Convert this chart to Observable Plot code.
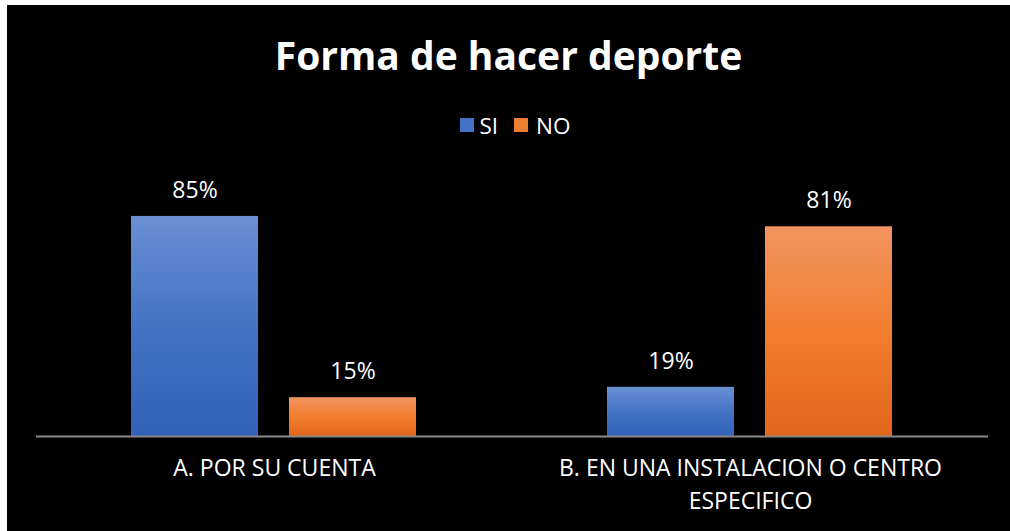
<!DOCTYPE html>
<html>
<head>
<meta charset="utf-8">
<script src="https://cdn.jsdelivr.net/npm/d3@7"></script>
<script src="https://cdn.jsdelivr.net/npm/@observablehq/plot@0.6"></script>
<style>
  html, body { margin: 0; padding: 0; background: #ffffff; }
  #wrap { position: absolute; left: 7px; top: 5px; width: 1003px; height: 526px; background: #000; overflow: hidden;
          font-family: "Open Sans", Lato, sans-serif; color: #fff; }
  #title { height: 95px; line-height: 100px; text-align: center; font-size: 39px; font-weight: bold; }
  #legend { height: 45px; line-height: 45px; text-align: center; font-size: 22.5px; display: flex; justify-content: center; align-items: center; padding-top: 5px; padding-left: 14px; box-sizing: border-box; }
  .sw { display: inline-block; width: 14px; height: 14px; margin-right: 5px; }
  .item { display: inline-flex; align-items: center; margin: 0 8px; }
  svg { display: block; }
</style>
</head>
<body>
<div id="wrap">
  <div id="title">Forma de hacer deporte</div>
  <div id="legend"></div>
  <div id="chart"></div>
</div>
<script>
const categories = ["A. POR SU CUENTA", "B. EN UNA INSTALACION O CENTRO ESPECIFICO"];
const categoryLabels = ["A. POR SU CUENTA", "B. EN UNA INSTALACION O CENTRO\nESPECIFICO"];
const series = ["SI", "NO"];
const valuesSI = [0.85, 0.19];
const valuesNO = [0.15, 0.81];
const seriesColors = ["#4472c4", "#ed7d31"];

const data = [];
categories.forEach((c, i) => {
  data.push({category: c, series: "SI", value: valuesSI[i]});
  data.push({category: c, series: "NO", value: valuesNO[i]});
});

// legend
const legend = document.getElementById("legend");
series.forEach((s, i) => {
  const it = document.createElement("span");
  it.className = "item";
  const sw = document.createElement("span");
  sw.className = "sw";
  sw.style.background = seriesColors[i];
  if (i === 1) sw.style.marginRight = "8px";
  it.appendChild(sw);
  it.appendChild(document.createTextNode(s));
  legend.appendChild(it);
});

const defs = () => {
  const ns = "http://www.w3.org/2000/svg";
  const d = document.createElementNS(ns, "defs");
  const grads = [
    ["gSI", ["#6a8fd3", "#4473c4", "#3162b8"]],
    ["gNO", ["#f19460", "#f27e2f", "#e0661b"]]
  ];
  for (const [id, stops] of grads) {
    const g = document.createElementNS(ns, "linearGradient");
    g.setAttribute("id", id);
    g.setAttribute("x1", "0"); g.setAttribute("y1", "0");
    g.setAttribute("x2", "0"); g.setAttribute("y2", "1");
    stops.forEach((c, k) => {
      const s = document.createElementNS(ns, "stop");
      s.setAttribute("offset", `${k * 50}%`);
      s.setAttribute("stop-color", c);
      g.appendChild(s);
    });
    d.appendChild(g);
  }
  return d;
};

const labelMap = new Map(categories.map((c, i) => [c, categoryLabels[i]]));

const chart = Plot.plot({
  width: 1003,
  height: 386,
  marginTop: 58,
  marginBottom: 95,
  marginLeft: 28,
  marginRight: 22,
  style: {background: "#000", color: "#fff", fontFamily: "'Open Sans', Lato, sans-serif", fontSize: "23px"},
  fx: {domain: categories, padding: 0, axis: null},
  x: {domain: series, paddingInner: 0.196, paddingOuter: 0.603, axis: null},
  y: {domain: [0, 0.9], axis: null},
  marks: [
    defs,
    Plot.barY(data.filter(d => d.series === "SI"), {fx: "category", x: "series", y: "value", fill: "url(#gSI)"}),
    Plot.barY(data.filter(d => d.series === "NO"), {fx: "category", x: "series", y: "value", fill: "url(#gNO)"}),
    Plot.ruleY([0], {stroke: "#898989", strokeWidth: 2}),
    Plot.text(data, {fx: "category", x: "series", y: "value", text: d => `${Math.round(d.value * 100)}%`, dy: -26, fill: "#fff", fontSize: 23, lineAnchor: "middle"}),
    Plot.axisFx({anchor: "bottom", tickSize: 0, tickPadding: 17, label: null, fontSize: 23, lineHeight: 1.4, tickFormat: d => labelMap.get(d), fill: "#fff"})
  ]
});
document.getElementById("chart").appendChild(chart);
</script>
</body>
</html>
